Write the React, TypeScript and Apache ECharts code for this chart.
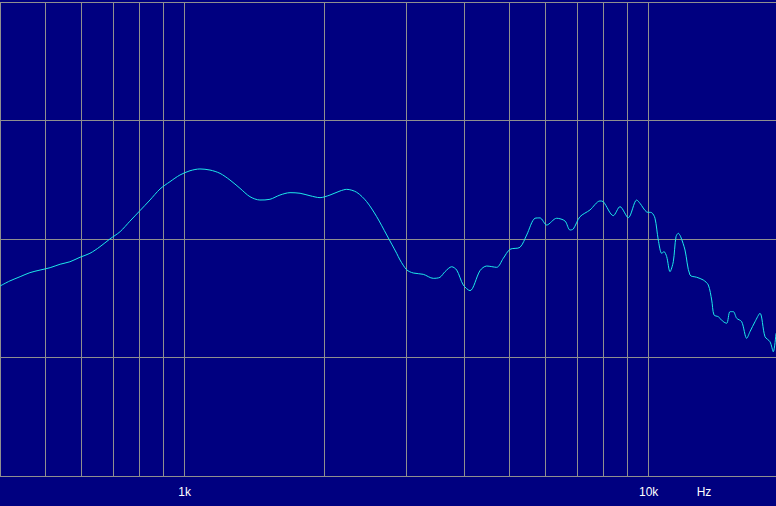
import React, { useEffect, useRef } from "react";
import * as echarts from "echarts";

// Frequency response (Hz, dB)
const freqHz = [
  400, 420, 442, 464, 488, 513, 539, 566, 595, 625, 657, 690, 726, 762, 801, 842, 885, 930, 977,
  1027, 1079, 1134, 1192, 1252, 1316, 1383, 1453, 1527, 1605, 1687, 1773, 1863, 1958, 2057, 2162,
  2235, 2349, 2468, 2594, 2726, 2864, 2912, 3010, 3110, 3268, 3435, 3551, 3640, 3763, 3858, 3986,
  4121, 4331, 4477, 4705, 4861, 5026, 5281, 5460, 5690, 5832, 6030, 6336, 6603, 6769, 6880, 7113,
  7475, 7855, 7985, 8392, 8675, 9040, 9425, 9580, 9904, 10153, 10321, 10491, 10670, 10792, 10938,
  11118, 11302, 11454, 11586, 11725, 11978, 12278, 12694, 13116, 13446, 13675, 13832, 14130, 14485,
  14732, 14975, 15222, 15481, 15870, 16269, 16537, 16953, 17379, 17815, 18263, 18564, 18815,
];
const levelDb = [
  76.03, 76.46, 76.82, 77.16, 77.38, 77.58, 77.87, 78.08, 78.46, 78.79, 79.35, 80.0, 80.62, 81.5,
  82.39, 83.29, 84.22, 84.84, 85.4, 85.76, 85.91, 85.82, 85.54, 84.98, 84.28, 83.57, 83.29, 83.35,
  83.71, 83.91, 83.86, 83.65, 83.49, 83.71, 84.05, 84.19, 83.94, 83.15, 81.88, 80.34, 78.79, 78.23,
  77.4, 77.13, 77.02, 76.68, 76.77, 77.24, 77.66, 77.38, 76.12, 75.64, 77.33, 77.72, 77.61, 78.37,
  79.13, 79.3, 80.34, 81.75, 81.78, 81.18, 81.75, 81.52, 80.76, 80.84, 81.88, 82.45, 83.21, 83.15,
  81.97, 82.73, 81.8, 83.29, 83.01, 82.28, 82.22, 81.75, 79.92, 78.79, 78.93, 78.51, 77.24, 78.08,
  80.19, 80.48, 80.19, 79.07, 76.96, 76.77, 76.54, 76.12, 74.85, 73.59, 73.44, 73.02, 72.89, 73.87,
  73.87, 73.31, 73.02, 71.62, 72.18, 73.02, 73.73, 71.76, 71.33, 70.49, 72.04,
];

// Vertical grid lines (Hz)
const gridFreqs = [500, 600, 700, 800, 900, 1000, 2000, 3000, 4000, 5000, 6000, 7000, 8000, 9000, 10000];
const tickLabels: Record<number, string> = { 1000: "1k", 10000: "10k" };
const unitLabel = "Hz";

const X_MIN = 400;
const X_MAX = 18815;
const Y_MIN = 60;
const Y_MAX = 100;
const Y_STEP = 10;

const GRID_COLOR = "#8f8f8f";

export default function App() {
  const ref = useRef<HTMLDivElement>(null);

  useEffect(() => {
    if (!ref.current) return;
    const chart = echarts.init(ref.current, undefined, { renderer: "svg" });
    const data = freqHz.map((f, i) => [f, levelDb[i]]);
    chart.setOption({
      animation: false,
      backgroundColor: "#000080",
      grid: {
        left: 0,
        right: 0,
        top: 2,
        bottom: 30,
        containLabel: false,
        outerBoundsMode: "none",
      },
      xAxis: {
        type: "log",
        logBase: 10,
        min: X_MIN,
        max: X_MAX,
        axisLine: { show: false },
        axisTick: { show: false },
        splitLine: { show: false },
        axisLabel: {
          show: true,
          interval: 0,
          margin: 10,
          color: "#ffffff",
          fontFamily: "Liberation Sans, Arial, sans-serif",
          fontSize: 12,
          formatter: (v: number) => tickLabels[Math.round(v)] ?? "",
        },
      },
      yAxis: {
        type: "value",
        min: Y_MIN,
        max: Y_MAX,
        interval: Y_STEP,
        axisLine: { show: false },
        axisTick: { show: false },
        axisLabel: { show: false },
        splitLine: { show: true, lineStyle: { color: GRID_COLOR, width: 1 } },
      },
      graphic: [
        {
          type: "text",
          x: 704,
          y: 492,
          style: {
            text: unitLabel,
            fill: "#ffffff",
            font: "12px 'Liberation Sans', Arial, sans-serif",
            textAlign: "center",
            textVerticalAlign: "middle",
          },
        },
      ],
      series: [
        {
          type: "line",
          data,
          z: 3,
          showSymbol: false,
          symbol: "none",
          smooth: 0.3,
          silent: true,
          lineStyle: { color: "#1ee8e8", width: 1 },
          markLine: {
            silent: true,
            z: 1,
            symbol: ["none", "none"],
            label: { show: false },
            emphasis: { disabled: true },
            lineStyle: { color: GRID_COLOR, width: 1, type: "solid" },
            data: [
              { xAxis: X_MIN, lineStyle: { color: GRID_COLOR, width: 2, type: "solid" } },
              ...gridFreqs.map((f) => ({ xAxis: f })),
            ],
          },
        },
      ],
    });
    return () => chart.dispose();
  }, []);

  return (
    <div
      ref={ref}
      style={{ position: "fixed", left: 0, top: 0, width: 776, height: 506 }}
    />
  );
}
